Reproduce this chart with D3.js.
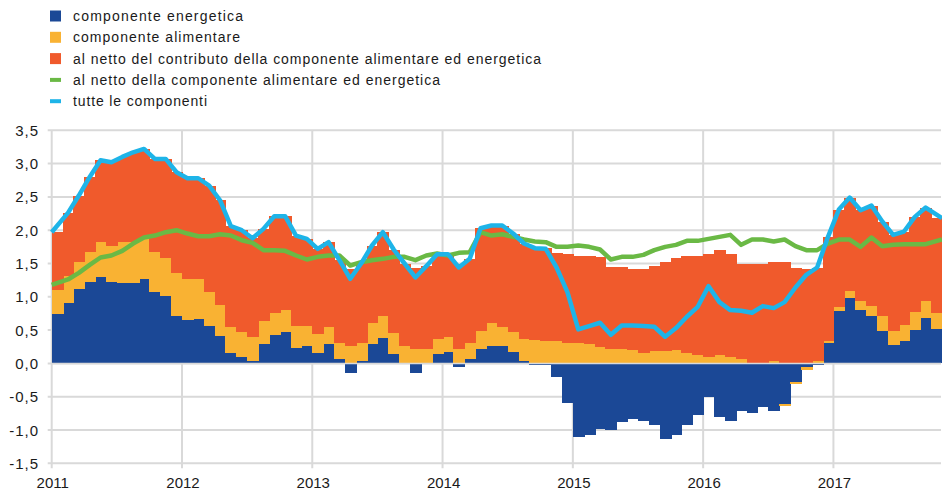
<!DOCTYPE html>
<html>
<head>
<meta charset="utf-8">
<script src="https://cdn.jsdelivr.net/npm/d3@7"></script>
<style>
body { margin: 0; background: #fff; }
text { font-family: Arial, "Liberation Sans", sans-serif; fill: #1a1a1a; }
</style>
</head>
<body>
<svg id="grafico" width="942" height="491"></svg>
<script>
// Dati mensili gen 2011 - ott 2017
var anni = ["2011", "2012", "2013", "2014", "2015", "2016", "2017"];
var tickY = [-1.5, -1, -0.5, 0, 0.5, 1, 1.5, 2, 2.5, 3, 3.5];

var energetica = [
    0.74, 0.90, 1.11, 1.22, 1.29, 1.22, 1.20, 1.20, 1.26, 1.07, 1.01, 0.71,
    0.65, 0.67, 0.56, 0.41, 0.15, 0.09, 0.04, 0.29, 0.43, 0.47, 0.23, 0.26,
    0.15, 0.29, 0.06, -0.14, 0.03, 0.29, 0.38, 0.14, 0.01, -0.14, 0.01, 0.14,
    0.17, -0.05, 0.06, 0.21, 0.26, 0.26, 0.17, 0.03, -0.03, -0.03, -0.20, -0.59,
    -1.10, -1.08, -0.98, -1.00, -0.88, -0.84, -0.86, -0.93, -1.13, -1.08, -0.93, -0.78,
    -0.51, -0.80, -0.86, -0.71, -0.74, -0.66, -0.71, -0.61, -0.28, -0.06, -0.02, 0.30,
    0.78, 0.98, 0.80, 0.71, 0.48, 0.27, 0.33, 0.50, 0.68, 0.51
];
var alimentare = [
    0.36, 0.41, 0.41, 0.45, 0.53, 0.54, 0.62, 0.62, 0.61, 0.60, 0.58, 0.64,
    0.61, 0.59, 0.51, 0.46, 0.39, 0.38, 0.35, 0.34, 0.32, 0.33, 0.33, 0.30,
    0.29, 0.25, 0.24, 0.26, 0.28, 0.31, 0.33, 0.31, 0.25, 0.21, 0.20, 0.22,
    0.22, 0.21, 0.24, 0.27, 0.34, 0.28, 0.30, 0.33, 0.35, 0.34, 0.33, 0.31,
    0.30, 0.29, 0.24, 0.21, 0.21, 0.20, 0.15, 0.18, 0.18, 0.20, 0.15, 0.12,
    0.09, 0.12, 0.09, 0.06, 0.01, 0.00, 0.03, -0.03, -0.03, -0.04, 0.03, 0.04,
    0.06, 0.10, 0.13, 0.15, 0.23, 0.21, 0.24, 0.27, 0.25, 0.24
];
var nettoContributo = [
    0.87, 0.95, 1.00, 1.13, 1.23, 1.26, 1.28, 1.35, 1.35, 1.40, 1.48, 1.52,
    1.52, 1.52, 1.60, 1.58, 1.52, 1.53, 1.49, 1.39, 1.46, 1.41, 1.36, 1.31,
    1.28, 1.28, 1.25, 1.15, 1.20, 1.17, 1.26, 1.26, 1.24, 1.22, 1.25, 1.28,
    1.25, 1.28, 1.27, 1.55, 1.47, 1.53, 1.48, 1.44, 1.40, 1.40, 1.33, 1.34,
    1.31, 1.33, 1.36, 1.23, 1.23, 1.21, 1.26, 1.28, 1.35, 1.39, 1.46, 1.49,
    1.56, 1.58, 1.55, 1.43, 1.48, 1.50, 1.50, 1.53, 1.43, 1.41, 1.40, 1.56,
    1.47, 1.41, 1.37, 1.51, 1.42, 1.45, 1.41, 1.43, 1.41, 1.43
];
var nettoInflazione = [
    1.18, 1.26, 1.36, 1.48, 1.59, 1.62, 1.69, 1.80, 1.89, 1.92, 1.97, 2.00,
    1.95, 1.91, 1.91, 1.94, 1.92, 1.85, 1.81, 1.70, 1.70, 1.69, 1.62, 1.56,
    1.60, 1.62, 1.62, 1.47, 1.52, 1.55, 1.57, 1.60, 1.60, 1.55, 1.62, 1.65,
    1.62, 1.66, 1.67, 1.97, 1.92, 1.94, 1.90, 1.86, 1.83, 1.82, 1.75, 1.75,
    1.77, 1.75, 1.71, 1.56, 1.60, 1.60, 1.63, 1.70, 1.75, 1.78, 1.84, 1.84,
    1.87, 1.90, 1.93, 1.78, 1.86, 1.86, 1.83, 1.86, 1.76, 1.70, 1.70, 1.80,
    1.86, 1.86, 1.75, 1.89, 1.76, 1.78, 1.79, 1.79, 1.79, 1.86
];
var totale = [
    1.97, 2.26, 2.52, 2.80, 3.05, 3.02, 3.10, 3.17, 3.22, 3.07, 3.07, 2.87,
    2.78, 2.78, 2.67, 2.45, 2.06, 2.00, 1.88, 2.02, 2.21, 2.21, 1.92, 1.87,
    1.72, 1.82, 1.55, 1.27, 1.50, 1.77, 1.97, 1.71, 1.50, 1.29, 1.46, 1.64,
    1.64, 1.44, 1.57, 2.03, 2.07, 2.07, 1.95, 1.80, 1.73, 1.72, 1.44, 1.07,
    0.51, 0.56, 0.61, 0.43, 0.57, 0.57, 0.56, 0.55, 0.40, 0.53, 0.70, 0.85,
    1.16, 0.92, 0.80, 0.79, 0.76, 0.86, 0.83, 0.92, 1.14, 1.33, 1.44, 1.90,
    2.31, 2.49, 2.30, 2.37, 2.13, 1.93, 1.98, 2.20, 2.34, 2.18
];

var colori = {
    energetica: "#1b4896",
    alimentare: "#f9b233",
    netto: "#f05a2c",
    nettoLinea: "#6ab945",
    totale: "#1eb4e8"
};

var svg = d3.select("#grafico");
var sinistra = 51.7, destra = 942, alto = 130.3, basso = 463.3;

var mesi = d3.range(energetica.length);
var x = d3.scaleBand().domain(mesi).range([sinistra, destra]).padding(0);
var y = d3.scaleLinear().domain([-1.5, 3.5]).range([basso, alto]);
var bw = x.bandwidth();
var formato = function (v) { return d3.format(".1f")(v).replace(".", ",").replace("−", "-"); };

// Griglia orizzontale
svg.append("g").selectAll("line")
    .data(tickY)
    .join("line")
    .attr("x1", sinistra - 4).attr("x2", destra - 1)
    .attr("y1", function (d) { return y(d); }).attr("y2", function (d) { return y(d); })
    .attr("stroke", "#d9d9d9").attr("stroke-width", 2);

// Griglia verticale (inizio di ogni anno)
svg.append("g").selectAll("line")
    .data(anni)
    .join("line")
    .attr("x1", function (d, i) { return x(i * 12); }).attr("x2", function (d, i) { return x(i * 12); })
    .attr("y1", alto).attr("y2", basso + 5)
    .attr("stroke", "#d9d9d9").attr("stroke-width", 2);

// Barre impilate (positivi in su, negativi in giu)
var righe = mesi.map(function (i) {
    return { i: i, energetica: energetica[i], alimentare: alimentare[i], netto: nettoContributo[i] };
});
var pila = d3.stack()
    .keys(["energetica", "alimentare", "netto"])
    .offset(d3.stackOffsetDiverging)(righe);

svg.append("g").selectAll("g")
    .data(pila)
    .join("g")
    .attr("fill", function (s) { return colori[s.key]; })
    .attr("shape-rendering", "crispEdges")
    .selectAll("rect")
    .data(function (s) { return s; })
    .join("rect")
    .attr("x", function (d) { return x(d.data.i); })
    .attr("width", bw + 1)
    .attr("y", function (d) { return y(Math.max(d[0], d[1])); })
    .attr("height", function (d) { return Math.abs(y(d[0]) - y(d[1])); });

// Linea dello zero
svg.append("line")
    .attr("x1", sinistra).attr("x2", destra - 1)
    .attr("y1", y(0)).attr("y2", y(0))
    .attr("stroke", "#d9d9d9").attr("stroke-width", 1.5);

// Linee
var n = mesi.length;
var posX = function (i) {
    if (i === 0) return x(0);
    if (i === n - 1) return x(n - 1) + bw;
    return x(i) + bw / 2;
};
var linea = d3.line()
    .x(function (d, i) { return posX(i); })
    .y(function (d) { return y(d); });

svg.append("path")
    .datum(nettoInflazione)
    .attr("d", linea)
    .attr("fill", "none")
    .attr("stroke", colori.nettoLinea)
    .attr("stroke-width", 4.5)
    .attr("stroke-linejoin", "round");

svg.append("path")
    .datum(totale)
    .attr("d", linea)
    .attr("fill", "none")
    .attr("stroke", colori.totale)
    .attr("stroke-width", 4.5)
    .attr("stroke-linejoin", "round");

// Etichette assi
svg.append("g").selectAll("text")
    .data(tickY)
    .join("text")
    .attr("x", 39)
    .attr("y", function (d) { return y(d) + 5.5; })
    .attr("text-anchor", "end")
    .style("font-size", "15px")
    .style("letter-spacing", "1px")
    .text(formato);

svg.append("g").selectAll("text")
    .data(anni)
    .join("text")
    .attr("x", function (d, i) { return x(i * 12) + 1; })
    .attr("y", 488)
    .attr("text-anchor", "middle")
    .style("font-size", "15px")
    .text(function (d) { return d; });

// Legenda
var voci = [
    { testo: "componente energetica", colore: colori.energetica, tipo: "box", largo: 170 },
    { testo: "componente alimentare", colore: colori.alimentare, tipo: "box", largo: 167 },
    { testo: "al netto del contributo della componente alimentare ed energetica", colore: colori.netto, tipo: "box", largo: 468 },
    { testo: "al netto della componente alimentare ed energetica", colore: colori.nettoLinea, tipo: "linea", largo: 367 },
    { testo: "tutte le componenti", colore: colori.totale, tipo: "linea", largo: 134 }
];
var legenda = svg.append("g").selectAll("g")
    .data(voci)
    .join("g")
    .attr("transform", function (d, i) { return "translate(50," + (16 + i * 21.3) + ")"; });

legenda.append("rect")
    .attr("x", 0)
    .attr("y", function (d) { return d.tipo === "box" ? -5.5 : -2; })
    .attr("width", 11)
    .attr("height", function (d) { return d.tipo === "box" ? 11 : 4; })
    .attr("fill", function (d) { return d.colore; });

legenda.append("text")
    .attr("x", 23)
    .attr("y", 5)
    .attr("textLength", function (d) { return d.largo; })
    .attr("lengthAdjust", "spacing")
    .style("font-size", "14px")
    .text(function (d) { return d.testo; });
</script>
</body>
</html>
